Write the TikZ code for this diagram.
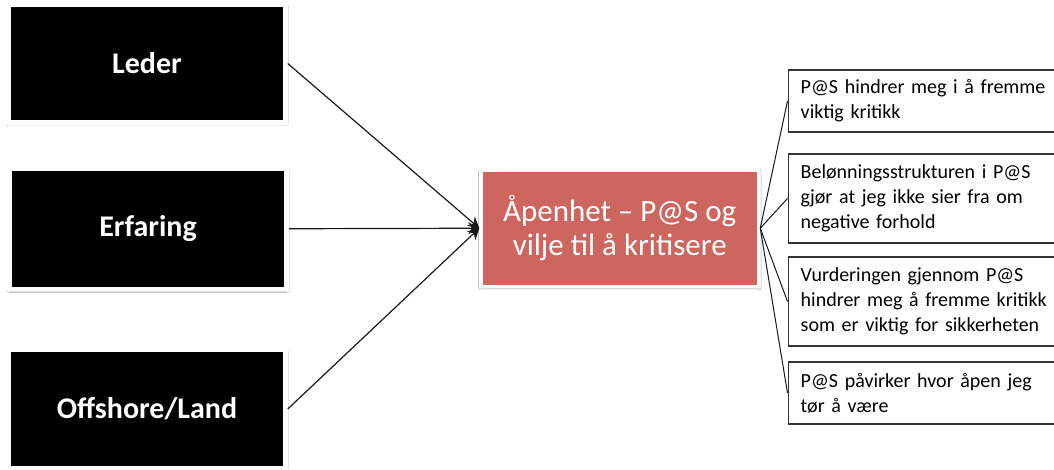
\documentclass[tikz,border=0pt]{standalone}
\usepackage{fontspec}
\setmainfont{Carlito}
\usetikzlibrary{arrows.meta,shadows.blur}
\definecolor{boxred}{HTML}{CD665F}
\definecolor{rimgray}{HTML}{333333}
\tikzset{
  factor/.style={draw=white, line width=4.5pt, fill=black, text=white,
    minimum width=277pt, minimum height=118pt, inner sep=0pt,
    font=\fontsize{30}{34}\selectfont\bfseries,
    blur shadow={shadow xshift=0pt, shadow yshift=-1pt, shadow blur radius=2.5pt, shadow opacity=55}},
  hub/.style={draw=white, line width=3.5pt, fill=boxred, text=white,
    minimum width=277.5pt, minimum height=116.5pt, inner sep=0pt, align=center,
    font=\fontsize{31}{34}\selectfont,
    blur shadow={shadow xshift=0pt, shadow yshift=-1pt, shadow blur radius=2.5pt, shadow opacity=55}},
  item/.style={draw=rimgray, line width=1.4pt, fill=white, anchor=west,
    minimum width=290pt, text width=265pt, inner xsep=12.5pt, align=left,
    font=\fontsize{20}{25}\selectfont},
  feed/.style={draw=black!90, line width=1.2pt, -{Stealth[length=11pt,width=12pt]}},
  branch/.style={draw=black!90, line width=1pt},
}
\begin{document}
\begin{tikzpicture}[x=1pt,y=1pt]
\clip (0,0) rectangle (1054,470);
\fill[white] (0,0) rectangle (1054,470);

% factors on the left
\node[factor] (leder) at (147,406.5) {Leder};
\node[factor, minimum height=120.5pt] (erfaring) at (148,241.25) {Erfaring};
\node[factor] (offshore) at (147,61) {Offshore/Land};

% central concept
\node[hub] (hub) at (619.75,241.75) {Åpenhet – P@S og\\vilje til å kritisere};

% statements on the right
\node[item, minimum height=62pt] (s1) at (787.5,369) {P@S hindrer meg i å fremme\\viktig kritikk};
\node[item, minimum height=89pt] (s2) at (787.5,271.5) {Belønningsstrukturen i P@S\\gjør at jeg ikke sier fra om\\negative forhold};
\node[item, minimum height=89pt] (s3) at (787.5,168.5) {Vurderingen gjennom P@S\\hindrer meg å fremme kritikk\\som er viktig for sikkerheten};
\node[item, minimum height=62pt] (s4) at (787.5,77) {P@S påvirker hvor åpen jeg\\tør å være};

% arrows into the central concept
\draw[feed] (leder.east) -- (hub.west);
\draw[feed] (erfaring.east) -- (hub.west);
\draw[feed] (offshore.east) -- (hub.west);

% branches out to the statements
\foreach \s in {s1,s2,s3,s4}
  \draw[branch] (hub.east) -- (\s.west);
\end{tikzpicture}
\end{document}
